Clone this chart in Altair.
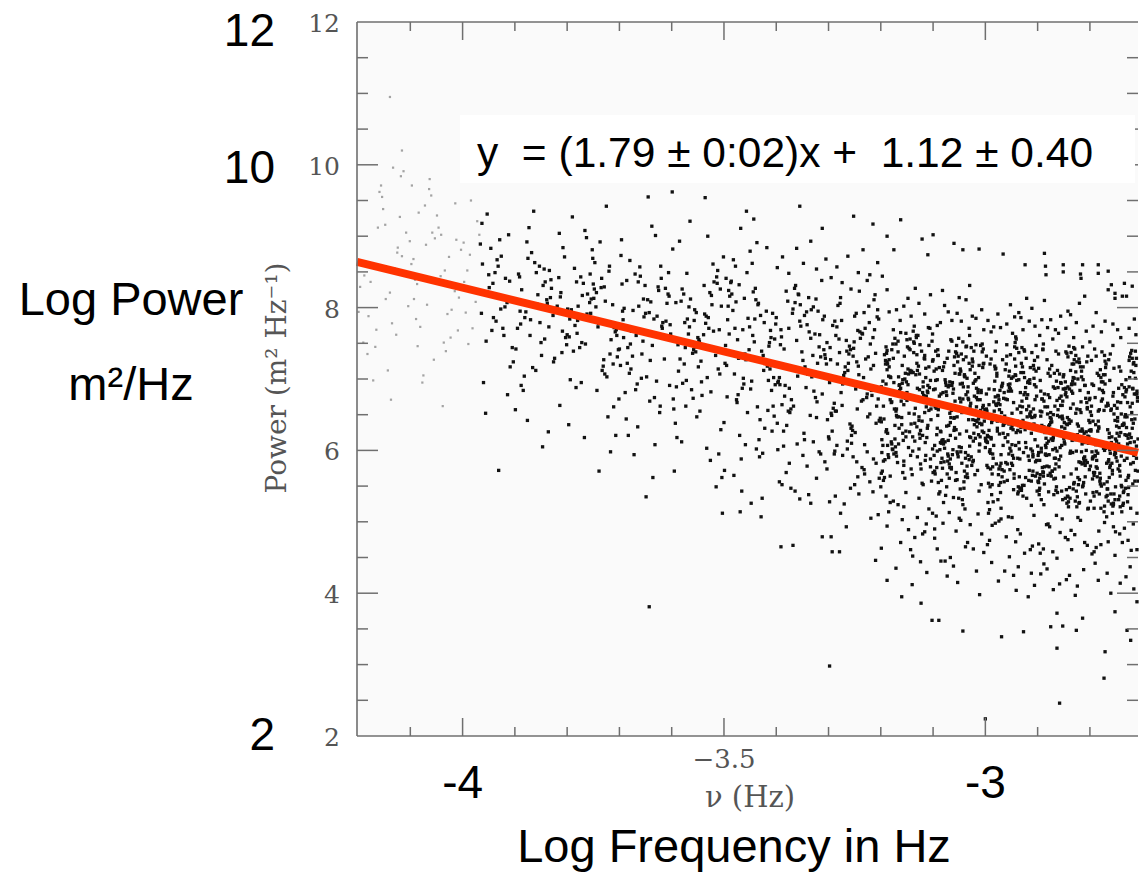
import altair as alt
import pandas as pd

# ---------------- data ----------------
X_DOMAIN = [-4.202, -2.708]
Y_DOMAIN = [2, 12]

# fitted line end points (log frequency, log power)
FIT_X = [-4.202, -2.708]
FIT_Y = [8.64, 5.97]

# light grey points (low-frequency data set); tokens "offset:y", x = band start + offset/1000
GRAY_STARTS = [-4.2, -4.1, -4.0]
GRAY_POINTS = [
    "44:9.71 12:8.45 73:7.62 38:9.12 99:8.93 61:8.21 18:7.35 84:8.72 48:9.38 1:7.94 70:8.55 29:6.98 "
    "92:9.05 53:8.12 10:7.51 76:8.84 41:9.62 65:7.78 24:8.36 87:9.91 57:7.12 15:8.64 80:9.27 33:7.45 "
    "96:8.02 46:9.55 4:8.29 63:6.71 20:7.88 89:8.47 52:9.16 35:7.69 75:8.77 61:10.95 67:9.96 84:10.2 82:9.84",
    "37:9.8 82:8.31 14:7.46 59:9.02 6:8.68 71:7.91 28:9.43 93:8.14 45:7.27 3:9.71 66:8.52 19:7.73 88:8.95 "
    "51:9.29 32:8.04 77:7.58 9:8.39 40:9.57 62:6.62 25:7.05 97:8.81 54:9.12 11:7.84 85:8.23 36:9.66 68:7.39 "
    "2:8.61 47:8.97 79:7.97 16:9.33 58:8.44 91:7.68 23:6.95 74:8.71 42:9.05 7:8.12 64:7.51 30:8.88 86:9.46 13:8.33",
    "14:8.74 6:7.93 28:9.21 3:8.36 19:7.71 32:9.02 9:8.52 25:8.08 11:7.49 2:8.91 23:8.27 16:9.5",
]

# black points (main data set)
BLACK_STARTS = [-4.0, -3.9, -3.8, -3.7, -3.6, -3.5, -3.4, -3.3, -3.2, -3.1, -3.0, -2.9, -2.8]
BLACK_POINTS = [
    # -4.0
    "37:9.18 82:8.41 59:7.86 71:8.95 93:8.12 45:7.53 66:8.67 88:9.02 51:8.28 77:7.71 40:6.95 62:8.49 "
    "97:7.24 54:8.83 85:8.07 36:7.92 68:8.58 47:9.31 79:7.61 58:8.34 91:7.17 74:8.72 42:8.19 64:7.81 "
    "86:6.78 50:8.46 95:7.44 69:5.72 34:8.89 81:8.01 56:7.68 90:8.37 44:6.52 73:7.98 38:8.61",
    # -3.9
    "66:8.52 19:7.86 88:8.21 51:7.33 32:8.77 77:7.95 9:8.43 40:7.12 62:8.06 25:8.69 97:7.58 54:8.31 "
    "11:7.77 85:9.04 36:9.35 68:8.14 2:7.42 47:8.58 79:7.99 16:6.84 58:8.36 91:7.67 23:8.92 74:7.24 "
    "42:8.05 7:8.47 64:6.26 30:7.83 86:6.63 13:8.25 50:7.51 95:8.71 21:7.94 69:8.39 34:7.16 81:8.02 "
    "5:7.71 56:8.54 27:9.12 90:7.37 44:8.18 12:6.91 73:7.89 38:8.63 99:7.48 61:8.11 18:7.04 84:8.42 "
    "48:7.79 1:6.57 70:8.27 29:7.61 92:8.84 53:6.05 10:7.95 76:7.29 41:8.49 65:7.73 24:6.42 87:8.15 57:7.56",
    # -3.8
    "50:8.33 95:7.61 21:8.02 69:7.18 34:9.08 81:8.58 5:7.84 56:8.21 27:6.95 90:7.72 44:8.47 12:7.39 "
    "73:8.09 38:7.91 99:6.72 61:5.71 18:8.36 84:7.55 48:8.81 1:7.98 70:7.27 29:8.17 92:7.66 53:8.63 "
    "10:9.27 76:7.03 41:7.86 65:8.28 24:7.44 87:8.04 57:6.84 15:7.75 80:8.51 33:6.18 96:7.31 46:8.12 "
    "4:7.59 63:8.92 20:7.82 89:6.61 52:8.26 35:7.49 75:9.42 8:7.97 67:7.12 26:8.43 94:7.69 43:8.07 "
    "17:6.88 83:5.98 60:7.78 31:8.34 98:7.41 49:8.69 22:7.88 72:7.07 39:8.19 0:7.62 78:6.47 55:8.01 "
    "37:8.98 82:7.35 14:8.55 59:7.73 6:6.99 71:8.29 28:7.51 93:6.21 45:7.92 3:6.36 66:8.41 19:7.64 "
    "88:7.21 51:8.13",
    # -3.7
    "57:7.93 15:7.22 80:8.41 33:7.66 96:6.91 46:8.12 4:8.95 63:7.47 20:8.66 89:7.81 52:7.03 35:6.33 "
    "75:8.24 8:7.58 67:6.74 26:7.96 94:8.49 43:7.35 17:6.21 83:7.79 60:8.08 31:6.85 98:7.63 49:8.31 "
    "22:7.14 72:7.88 39:8.57 0:7.42 78:6.62 55:9.55 37:8.02 82:7.71 14:8.38 59:7.26 6:7.95 71:6.97 "
    "28:5.94 93:8.19 45:7.53 3:8.73 66:7.84 19:7.08 88:8.27 51:5.35 32:7.61 77:6.53 9:7.99 40:8.44 "
    "62:9.14 25:7.32 97:7.76 54:8.11 11:6.81 85:7.57 36:8.36 68:6.08 2:7.19 47:7.87 79:8.58 16:7.44 "
    "58:6.69 91:8.06 23:7.67 74:8.29 42:7.01 7:7.83 64:5.62 30:8.47 86:7.28 13:6.44 50:7.92 95:8.16 "
    "21:7.49 69:9.01 34:6.93 81:7.74 5:8.33 57:3.81",
    # -3.6
    "71:7.71 28:6.98 93:8.26 45:7.45 3:6.72 66:7.88 19:6.12 88:8.52 51:7.17 32:7.63 "
    "77:8.04 9:6.89 40:7.36 62:8.31 25:7.79 97:5.12 54:6.55 11:7.54 85:5.49 36:8.12 "
    "68:7.02 2:8.82 47:7.93 79:8.61 16:7.28 58:6.77 91:7.69 23:8.19 74:5.86 42:7.41 "
    "7:6.38 64:9.54 30:7.84 86:8.43 13:7.11 50:7.58 95:8.02 21:6.94 69:9.0 34:7.73 "
    "81:8.36 5:5.71 56:7.25 27:6.62 90:5.95 44:7.97 12:7.48 73:8.21 38:6.85 99:8.71 "
    "61:7.62 18:8.09 84:7.33 48:6.47 1:9.62 70:7.86 29:8.48 92:7.07 53:7.52 10:6.18 "
    "76:8.17 41:6.73 65:7.78 24:7.21 87:8.34 57:6.96 15:8.93 80:7.67 33:8.01 96:5.62 "
    "46:7.38 4:6.58 63:7.91 20:8.26 89:7.14 52:7.55 35:9.21 75:6.82 8:8.07 67:6.03 "
    "26:7.44 94:6.29 43:7.82",
    # -3.5
    "58:7.52 91:6.84 23:8.08 74:5.96 42:7.27 7:7.83 64:6.61 30:6.21 86:7.46 13:8.35 "
    "50:8.79 95:7.02 21:7.71 69:6.43 34:5.43 81:7.95 5:7.19 56:8.22 27:6.78 90:7.58 "
    "44:8.49 12:7.36 73:5.33 38:6.93 99:7.77 61:8.11 18:8.67 84:6.56 48:7.41 1:5.72 "
    "70:7.89 29:8.32 92:6.27 53:6.97 10:7.63 76:7.12 41:6.08 65:8.04 24:6.71 87:7.51 "
    "57:9.24 15:8.19 80:7.24 33:5.88 96:6.48 46:7.85 4:8.41 63:8.91 20:7.07 89:7.68 "
    "52:5.26 35:6.87 75:7.33 8:8.02 67:6.15 26:7.55 94:6.62 43:9.35 17:7.96 83:7.18 "
    "60:8.27 31:5.14 98:6.92 49:7.73 22:8.58 72:7.39 39:8.13 0:6.39 78:6.31 55:7.61 "
    "37:7.01 82:8.84 14:8.37 59:7.84 6:6.75 71:5.07 28:7.29 93:7.92 45:6.53 3:7.47 "
    "66:8.06 19:5.65 88:7.14 51:6.86 32:9.11 77:7.79 9:8.24 40:7.35 62:6.02 25:6.67 "
    "97:7.56 54:8.62 11:8.16 85:6.98 36:7.69 68:5.91 2:7.22",
    # -3.4
    "70:7.33 29:6.71 92:7.88 53:6.24 10:7.59 76:8.12 41:7.04 65:6.49 24:7.71 87:8.38 "
    "57:6.88 15:7.42 80:7.95 33:6.62 96:7.21 46:8.04 4:6.97 63:7.66 20:6.35 89:7.83 "
    "52:7.13 35:8.27 75:6.74 8:7.48 67:7.97 26:6.53 94:7.29 43:8.18 17:6.91 83:7.62 "
    "60:7.07 31:7.92 98:6.43 49:7.38 22:8.09 72:6.83 39:7.54 0:7.86 78:6.68 55:7.17 "
    "37:8.31 82:7.45 14:6.27 59:7.76 6:7.02 71:8.01 28:6.58 93:7.34 45:7.81 3:6.95 "
    "66:7.57 19:8.23 88:6.79 51:7.26 32:7.98 77:6.46 9:7.69 40:7.11 62:8.14 25:6.87 "
    "97:7.51 54:7.89 11:6.64 85:7.31 36:8.07 68:7.03 2:6.38 47:7.74 79:7.22 16:6.76 "
    "58:7.94 91:7.41 23:6.55 74:7.63 42:8.19 7:6.92 "
    "82:5.98 14:6.06 59:5.78 6:5.56 71:6.12 28:5.47 93:5.84 45:5.32 3:6.01 66:5.26 19:5.69 88:4.79 "
    "51:5.93 32:4.67 77:5.61 9:4.65 40:6.09 62:5.38 25:5.82 97:5.74 54:6.15 11:5.52 85:5.95 36:5.43 "
    "2:8.56 12:8.71 24:8.48 39:8.83 52:8.62 66:8.93 77:8.54 88:9.11 95:8.68 45:9.42",
    # -3.3
    "81:7.14 5:6.52 56:7.68 27:6.93 90:7.36 44:6.21 12:7.81 73:6.74 38:7.22 99:6.45 "
    "61:7.57 18:8.03 84:6.88 48:7.43 1:6.16 70:7.71 29:7.05 92:6.62 53:7.92 10:6.99 "
    "76:7.31 41:6.37 65:7.63 24:6.81 87:8.11 57:7.18 15:6.55 80:7.49 33:6.94 96:7.84 "
    "46:6.28 4:7.27 63:6.69 20:7.56 89:8.18 52:6.86 35:7.39 75:6.47 8:7.75 67:7.02 "
    "26:6.63 94:7.97 43:6.31 17:7.21 83:6.77 60:7.66 31:7.09 98:6.41 49:7.52 22:8.06 "
    "72:6.92 39:7.35 0:6.19 78:7.79 55:6.58 37:7.12 82:6.84 14:7.61 59:8.23 6:6.49 "
    "71:7.28 28:6.97 93:7.87 45:6.34 3:7.44 66:6.71 19:7.01 88:7.69 51:6.25 32:7.17 "
    "77:8.02 9:6.59 40:7.46 62:6.89 25:7.82 97:6.42 54:7.24 11:6.66 85:7.58 36:6.13 "
    "68:7.93 2:6.95 47:7.32 79:6.51 16:7.73 58:7.06 91:6.38 23:8.14 74:6.79 42:7.41 "
    "7:6.27 64:7.64 30:6.98 86:7.19 13:6.55 50:7.88 95:6.72 21:7.37 69:6.08 34:7.54 "
    "2:2.98 97:5.61 54:5.84 11:5.95 85:5.42 36:6.02 68:5.73 2:5.28 47:5.91 79:5.56 16:6.07 58:5.39 "
    "91:5.82 23:5.12 74:5.98 42:5.47 7:4.58 64:5.76 30:5.25 86:5.88 13:5.36 50:5.52 95:5.1 21:4.58 "
    "69:5.67 34:4.93 81:5.05 5:4.79 56:5.63 27:5.93 90:4.46 44:6.1 12:5.99 "
    "5:8.42 16:8.57 26:8.35 37:8.72 48:9.28 57:8.49 66:8.81 74:8.38 85:9.17 94:8.63 43:8.26 79:8.46",
    # -3.2
    "52:6.92 35:6.31 75:7.48 8:5.87 67:7.06 26:6.58 94:7.71 43:6.14 17:6.83 83:7.29 "
    "60:5.66 31:6.47 98:7.53 49:6.96 22:6.02 72:7.18 39:6.69 0:5.49 78:7.39 55:6.26 "
    "37:7.82 82:6.77 14:5.94 59:7.11 6:6.44 71:7.61 28:6.05 93:6.88 45:7.32 3:5.71 "
    "66:6.59 19:7.02 88:6.18 51:7.45 32:5.83 77:6.73 9:7.21 40:6.36 62:7.67 25:6.95 "
    "97:5.57 54:6.52 11:7.36 85:6.11 36:6.84 68:7.58 2:5.97 47:7.08 79:6.41 16:7.27 "
    "58:5.74 91:6.67 23:7.49 74:6.23 42:6.99 7:5.62 64:7.74 30:6.49 86:7.15 13:6.07 "
    "50:6.81 95:5.88 21:7.41 69:6.33 34:7.03 81:5.52 5:6.62 56:7.56 27:6.16 90:6.91 "
    "44:5.79 12:7.24 73:6.42 38:6.87 99:7.63 61:5.99 18:6.71 84:7.33 48:6.27 1:5.68 "
    "70:7.12 29:6.55 92:7.47 53:6.04 10:6.93 76:5.81 41:7.19 65:6.38 24:7.69 87:6.76 "
    "57:5.93 15:7.04 80:6.21 33:7.38 96:6.58 46:5.61 4:6.97 63:7.52 20:6.12 89:6.83 "
    "77:5.74 9:7.26 40:6.46 62:7.09 25:5.95 97:6.64 54:7.43 11:6.29 85:5.86 36:6.92 "
    "68:7.61 2:6.15 47:6.73 79:5.54 16:7.17 58:6.37 91:7.72 23:6.01 74:6.85 42:5.69 "
    "7:7.34 64:6.51 30:5.92 86:7.02 13:6.24 50:7.55 95:5.77 21:6.68 69:7.22 34:6.09 "
    "81:6.96 5:5.58 56:7.41 27:6.35 90:6.81 44:5.85 12:7.13 73:6.47 38:7.65 99:6.02 "
    "61:6.74 18:5.64 84:7.28 48:6.19 1:6.89 70:5.91 29:7.49 92:6.56 53:7.07 10:6.26 "
    "44:5.21 12:4.94 73:5.33 38:4.71 99:5.12 61:4.52 18:5.27 84:4.86 48:5.41 1:4.63 70:5.06 29:4.35 "
    "92:5.18 53:4.89 10:5.36 76:4.44 41:5.03 65:4.78 24:5.29 87:4.97 57:4.61 15:5.14 80:4.83 33:5.24 "
    "77:3.86 12:4.18 40:3.95 60:4.12 88:4.29 98:3.62 "
    "3:8.44 12:9.0 12:8.25 16:7.94 25:8.81 38:9.23 44:8.02 52:8.13 66:8.27 73:8.06 79:8.96 90:8.74 "
    "58:7.88 30:7.97 84:7.91 95:8.18",
    # -3.1
    "68:6.71 2:5.93 47:7.24 79:6.36 16:5.58 58:6.89 91:7.47 23:6.12 74:6.54 42:7.08 "
    "7:5.76 64:6.27 30:7.39 86:6.81 13:5.42 50:6.05 95:7.16 21:6.63 69:5.87 34:7.55 "
    "81:6.42 5:6.98 56:5.31 27:7.29 90:6.19 44:5.69 12:6.76 73:7.44 38:6.01 99:6.57 "
    "61:5.18 18:7.12 84:6.33 48:5.91 1:6.85 70:7.61 29:6.14 92:5.52 53:6.68 10:7.33 "
    "76:5.84 41:6.46 65:7.01 24:5.37 87:6.22 57:7.52 15:6.79 80:5.66 33:6.39 96:7.21 "
    "46:5.98 4:6.61 63:7.45 20:5.27 89:6.08 52:6.93 35:5.74 75:7.18 8:6.31 67:6.73 "
    "26:5.49 94:7.38 43:6.17 17:5.89 83:6.87 60:7.04 31:5.61 98:6.49 49:7.57 22:6.03 "
    "72:6.66 39:5.34 0:7.27 78:6.24 55:5.82 37:6.95 82:7.48 14:6.11 59:5.56 6:6.59 "
    "71:7.13 28:5.95 93:6.37 45:7.36 3:5.71 66:6.82 19:6.15 88:5.43 51:7.07 32:6.52 "
    "77:5.86 9:7.41 40:6.28 62:5.63 25:6.91 97:7.22 54:6.04 11:5.39 85:6.71 36:7.53 "
    "70:6.19 29:5.92 92:6.84 53:7.11 10:5.55 76:6.43 41:7.31 65:5.78 24:6.63 87:7.02 "
    "57:5.24 15:6.26 80:6.97 33:5.88 96:7.42 46:6.47 4:5.67 63:6.78 20:7.17 89:6.09 "
    "52:5.46 35:6.56 75:7.28 8:5.99 67:6.89 26:6.34 94:7.49 43:5.58 17:6.12 83:6.74 "
    "60:7.06 31:5.81 98:6.41 49:5.33 22:7.23 72:6.18 39:6.86 0:5.69 78:7.39 55:6.53 "
    "37:5.94 82:6.99 14:6.27 59:5.47 6:7.14 71:6.62 28:5.85 93:6.36 45:7.47 3:6.07 "
    "66:5.62 19:6.81 88:7.19 51:6.23 32:5.76 77:6.94 9:7.33 40:6.45 62:5.97 "
    "3:4.9 3:4.77 11:3.62 15:4.45 23:4.45 27:4.24 33:4.5 39:4.38 57:3.47 62:4.65 77:4.62 6:5.08 "
    "19:4.98 31:5.13 44:4.87 50:5.05 66:4.71 71:4.96 86:5.11 93:4.83 97:4.57 8:4.62 47:4.15 53:5.02 "
    "83:4.31 89:3.98 "
    "0:9.02 40:8.9 57:8.81 88:8.82 29:7.94 54:7.81 82:7.85 69:7.71 14:7.79 22:8.03 36:7.82 46:7.92 "
    "63:8.11 75:7.88 93:7.97 8:7.75 50:8.14 97:7.69 18:8.24 70:8.31",
    # -3.0
    "61:6.41 18:7.18 84:5.72 48:6.86 1:6.13 70:7.44 29:5.41 92:6.58 53:7.03 10:5.96 "
    "76:6.29 41:7.32 65:5.63 24:6.77 87:6.02 57:7.51 15:5.28 80:6.47 33:6.94 96:5.84 "
    "46:7.11 4:6.21 63:5.49 20:6.65 89:7.37 52:5.93 35:6.36 75:7.02 8:5.17 67:6.81 "
    "26:5.74 94:7.26 43:6.12 17:6.55 83:5.58 60:7.43 31:6.89 98:5.86 49:6.31 22:7.08 "
    "72:5.36 39:6.72 0:6.04 78:7.29 55:5.67 37:6.48 82:6.97 14:5.95 59:7.56 6:6.19 "
    "71:5.51 28:6.84 93:7.14 45:6.37 3:5.79 66:6.62 19:7.39 88:5.23 51:6.08 32:6.91 "
    "77:5.62 9:7.21 40:6.44 62:5.89 25:6.76 97:7.47 54:5.45 11:6.16 85:6.99 36:5.71 "
    "68:6.53 2:7.32 47:6.03 79:5.33 16:6.68 58:7.05 91:5.91 23:6.27 74:7.41 42:5.58 "
    "7:6.86 64:6.11 30:5.19 86:7.16 13:6.42 50:5.82 95:6.71 21:7.52 69:5.47 34:6.24 "
    "81:6.95 5:5.76 56:7.28 27:6.57 90:5.99 44:6.83 12:5.38 73:7.09 38:6.18 99:5.68 "
    "7:6.64 64:7.37 30:5.94 86:6.33 13:5.52 50:7.01 95:6.49 21:5.81 69:7.22 34:6.07 "
    "81:6.78 5:5.27 56:7.45 27:6.23 90:5.65 44:6.92 12:6.39 73:5.97 38:7.13 99:5.43 "
    "61:6.58 18:6.97 84:5.86 48:7.34 1:6.14 70:6.69 29:5.55 92:7.19 53:6.29 10:5.74 "
    "76:6.81 41:7.48 65:6.02 24:5.31 87:6.54 57:7.06 15:5.89 80:6.35 33:7.27 96:5.64 "
    "46:6.88 4:6.11 63:5.42 20:7.15 89:6.46 52:5.79 35:6.73 75:7.39 8:5.98 67:6.26 "
    "26:5.51 94:6.92 "
    "0:2.24 31:3.39 73:3.46 37:4.31 54:4.25 94:4.11 82:3.95 46:4.51 63:4.37 12:4.43 25:4.17 59:4.04 "
    "88:4.28 6:5.12 44:5.07 58:4.72 13:4.95 86:4.61 30:5.04 67:4.83 4:4.68 93:5.09 40:4.79 19:4.98 "
    "75:4.56 51:5.06 8:4.74 62:4.89 26:5.01 90:4.66 "
    "34:8.75 76:8.6 79:8.13 56:7.87 72:7.69 16:7.73 58:7.59 89:7.99 5:7.82 24:7.91 41:7.77 48:8.04 "
    "64:7.93 84:7.81 95:7.74 11:7.66 29:7.72 52:7.64 68:7.86",
    # -2.9
    "46:6.33 4:5.47 63:7.12 20:6.78 89:5.86 52:6.09 35:7.39 75:5.21 8:6.54 67:6.97 "
    "26:5.64 94:7.24 43:6.21 17:5.93 83:6.68 60:7.46 31:5.38 98:6.42 49:7.03 22:5.77 "
    "72:6.15 39:6.88 0:7.31 78:5.52 55:6.37 37:5.99 82:7.17 14:6.61 59:5.28 6:6.83 "
    "71:7.42 28:5.71 93:6.26 45:6.94 3:5.44 66:7.21 19:6.51 88:5.89 51:6.12 32:7.08 "
    "77:5.62 9:6.72 40:7.35 62:5.96 25:6.39 97:5.19 54:6.87 11:7.49 85:5.81 36:6.24 "
    "68:7.02 2:5.55 47:6.63 79:7.28 16:6.04 58:5.35 91:6.91 23:7.14 74:5.74 42:6.47 "
    "7:5.98 64:7.37 30:6.18 86:5.49 13:6.79 50:7.06 95:5.83 21:6.34 69:7.44 34:5.61 "
    "81:6.57 5:6.98 56:5.26 27:7.19 90:6.11 44:5.92 12:6.69 73:7.33 38:5.41 99:6.28 "
    "61:6.86 18:5.78 84:7.11 48:6.44 1:5.57 70:7.27 29:6.01 92:6.73 53:5.33 10:7.41 "
    "76:6.22 41:5.87 65:6.92 24:7.04 87:5.51 57:6.36 15:5.94 80:7.23 33:6.62 96:5.18 "
    "97:6.81 54:7.38 11:5.69 85:6.09 36:6.97 68:5.46 2:7.15 47:6.48 79:5.84 16:6.26 "
    "58:7.31 91:5.63 23:6.74 74:5.99 42:7.07 7:5.31 64:6.41 30:6.89 86:7.45 13:5.77 "
    "50:6.17 95:6.58 21:5.42 69:7.21 34:6.03 81:6.84 5:5.66 56:7.36 27:6.29 90:5.91 "
    "44:6.95 12:5.24 73:6.52 38:7.12 99:5.73 61:6.38 18:7.27 84:5.98 48:6.69 1:5.56 "
    "70:7.01 29:6.14 92:5.86 53:6.78 10:7.42 76:5.35 41:6.23 65:6.93 24:5.68 87:7.17 "
    "57:6.46 15:5.95 80:5.27 33:6.87 96:7.32 46:6.07 4:5.61 63:6.59 20:7.08 89:5.82 "
    "52:6.31 35:5.44 75:7.24 8:6.72 67:5.97 26:6.16 "
    "37:3.72 25:3.53 48:3.54 37:3.23 74:3.48 86:3.65 72:3.97 42:4.13 18:4.34 76:4.1 61:4.25 37:4.49 "
    "12:4.41 42:2.46 6:4.27 30:4.05 55:4.19 88:4.33 65:4.61 20:4.97 64:4.88 11:4.62 47:5.04 90:4.71 "
    "23:4.93 5:4.56 71:4.82 36:5.09 95:4.67 17:4.96 58:4.75 82:5.02 29:4.58 43:4.85 2:4.69 77:5.06 53:4.78 "
    "13:8.76 15:8.58 16:8.46 49:8.6 49:8.5 86:8.6 82:8.47 83:8.41 90:8.16 13:8.1 25:7.83 44:7.88 "
    "63:7.9 34:7.69 80:8.06 4:7.61 19:7.72 29:7.56 40:7.64 54:7.71 69:7.58 74:7.79 93:7.67 8:7.83 58:7.95",
    # -2.8 (to the right edge)
    "37:6.24 82:5.53 14:7.08 59:6.67 6:5.91 71:6.02 28:7.33 45:5.26 3:6.49 66:6.88 "
    "19:5.68 88:7.19 51:6.13 32:5.82 77:6.61 9:7.42 40:5.39 62:6.35 25:6.96 54:5.74 "
    "11:6.08 85:6.79 36:7.27 68:5.47 2:6.29 47:5.94 79:7.11 16:6.55 58:5.21 91:6.74 "
    "23:7.38 74:5.65 42:6.19 7:6.91 64:5.41 30:7.16 86:6.44 13:5.86 50:6.04 21:7.02 "
    "69:5.58 34:6.66 81:7.29 5:5.89 56:6.32 27:5.14 90:6.83 44:7.47 12:5.77 73:6.17 "
    "38:6.98 61:5.49 18:6.57 84:7.23 48:5.97 1:5.29 70:6.85 29:7.06 92:5.71 53:6.41 "
    "10:5.92 76:7.31 41:6.11 65:5.43 24:6.72 87:7.01 57:5.79 15:6.27 80:7.4 33:5.56 "
    "46:6.51 4:6.93 63:5.23 20:7.13 89:6.06 52:5.85 35:6.63 75:7.26 8:5.36 67:6.22 "
    "26:6.81 43:5.72 17:7.05 83:6.38 60:5.51 31:7.21 49:5.96 22:6.69 72:5.28 39:7.35 "
    "0:6.16 78:5.81 55:6.87 69:6.99 34:5.46 81:6.31 5:5.88 56:7.17 27:6.56 90:5.12 "
    "44:6.76 12:7.32 73:5.62 38:6.01 61:6.92 18:5.39 84:7.09 48:6.42 1:5.78 70:6.21 "
    "29:7.25 92:5.57 53:6.68 10:5.93 76:7.02 41:5.25 65:6.36 24:6.84 87:7.39 57:5.71 "
    "15:6.12 80:6.53 33:5.37 46:7.15 4:5.98 63:6.78 20:5.61 89:7.29 52:6.24 35:5.84 "
    "75:6.89 8:5.19 67:6.47 26:7.06 43:5.67 17:6.33 83:7.21 60:5.92 31:6.62 49:5.49 "
    "22:6.96 72:6.09 39:5.79 0:6.73 78:7.36 55:5.31 37:6.18 82:6.87 14:5.63 59:7.11 "
    "6:6.41 71:5.89 28:5.22 45:6.81 3:7.26 66:6.02 "
    "29:3.18 27:2.81 48:3.74 71:3.48 78:3.34 40:4.0 69:4.23 77:4.37 33:4.28 48:4.53 90:3.88 10:4.42 "
    "58:4.14 84:4.06 16:4.18 57:4.83 12:4.64 83:4.97 35:4.72 4:4.55 66:4.91 21:4.68 49:4.86 90:4.61 "
    "28:4.99 73:4.74 8:4.58 45:4.93 62:4.71 17:4.87 79:4.6 "
    "16:8.6 16:8.48 35:8.51 41:8.32 66:8.34 81:8.3 48:8.13 0:7.52 35:8.25 48:8.2 62:8.16 70:8.16 "
    "6:7.74 22:7.66 29:7.81 53:7.69 59:7.58 75:7.71 88:7.62 12:7.93 44:7.77 85:7.84",
]

# extra points of the very dense core at high frequencies
DENSE_STARTS = [-3.2, -3.1, -3.0, -2.9, -2.8]
DENSE_POINTS = [
    "74:7.07 42:6.24 7:6.83 64:7.5 30:6.58 86:5.93 13:7.21 50:6.7 95:6.98 21:6.09 69:7.34 34:6.47 "
    "81:6.89 5:5.85 56:7.12 27:7.57 90:6.35 44:6.64 12:7.4 73:6.02 38:6.78 99:7.25 61:6.19 18:7.03 "
    "84:6.53 48:7.64 1:6.4 70:6.87 29:5.97 92:7.17 53:6.74 10:7.45 76:6.28 41:6.94 65:6.13 24:7.29 "
    "87:6.61 57:7.09 15:5.9 80:6.81 33:7.53 96:6.43 46:7.0 4:6.07 63:7.37 20:6.67 89:6.31 52:7.14 35:6.91 75:6.17",
    "88:5.99 51:6.73 32:6.96 77:6.13 9:6.49 40:7.19 62:5.89 25:6.82 97:6.25 54:7.35 11:6.63 85:5.72 "
    "36:6.91 68:6.43 2:7.11 47:5.95 79:6.76 16:6.1 58:7.27 91:6.56 23:6.99 74:5.79 42:6.69 7:6.22 "
    "64:7.46 30:6.35 86:6.85 13:6.01 50:7.07 95:6.6 21:5.84 69:7.22 34:6.46 81:6.17 5:7.39 56:6.94 "
    "27:5.67 90:6.71 44:6.29 12:7.16 73:5.91 38:6.8 99:6.52 61:7.03 18:5.75 84:6.4 48:7.32 1:6.65 "
    "70:6.06 29:6.89 92:6.81 53:5.98 10:6.57 76:7.24 41:6.32 65:5.67 24:6.95 87:6.44 57:6.72 15:5.83 "
    "80:7.08 33:6.21 96:6.63 46:5.59 4:6.86 63:7.31 20:6.09 89:6.38 52:7.14 35:5.76 75:6.52 8:6.99 "
    "67:5.93 26:6.77 94:6.27 43:7.38 17:6.14 83:6.61 60:5.71 31:6.91",
    "26:6.71 94:6.47 43:6.22 17:6.85 83:6.62 60:6.98 31:6.53 98:6.76 49:5.99 22:7.04 72:6.42 39:5.83 "
    "0:6.17 78:6.04 55:5.61 37:6.38 82:5.92 14:5.77 59:6.25 6:5.54 71:7.17 28:6.64 93:7.01 45:5.95 "
    "3:6.55 66:5.88 19:7.14 88:5.57 51:6.34 32:5.73 77:6.11 9:5.49 40:7.21 62:6.28 25:5.66 97:6.89 "
    "54:6.67 11:7.28 85:6.51 36:6.81 68:7.09 2:6.58 47:6.93 79:6.73 16:6.45 58:6.07 91:5.71 23:6.31 "
    "74:6.78 42:5.81 71:6.61 28:5.78 93:6.37 45:7.04 3:6.12 66:5.47 19:6.75 88:6.24 51:6.52 32:5.63 "
    "77:6.88 9:6.01 40:6.43 62:5.39 25:6.66 97:7.11 54:5.89 11:6.18 85:6.94 36:5.56 68:6.32 2:6.79 "
    "47:5.73 79:6.57 16:6.07 58:7.18 91:5.94 23:6.41 74:5.51 42:6.71 7:6.28 64:6.99 30:5.82 86:6.48 "
    "13:5.67 50:6.83 95:6.15 21:6.63 69:5.44 34:6.35",
    "50:5.63 95:6.6 21:6.13 69:5.53 34:5.89 81:6.27 5:6.55 56:6.75 27:6.4 90:6.91 44:6.63 12:6.33 "
    "73:7.1 38:6.49 99:6.71 61:5.48 18:6.1 84:7.03 48:5.31 1:5.93 70:5.55 29:6.16 92:5.39 53:6.96 "
    "10:5.7 76:6.37 41:5.77 65:6.83 24:6.46 87:6.99 57:5.36 15:6.07 80:5.59 33:5.74 96:6.2 46:5.43 "
    "4:5.86 63:5.99 20:5.65 89:6.24 52:6.86 35:5.81 75:6.58 8:6.35 67:6.8 26:6.44 94:6.67 43:6.04 "
    "17:6.29 83:6.53 60:6.43 31:5.6 98:6.19 49:6.86 22:5.94 72:5.29 39:6.57 0:6.06 78:6.34 55:5.45 "
    "37:6.7 82:5.83 14:6.25 59:5.21 6:6.48 71:6.93 28:5.71 93:6.0 45:6.76 3:5.38 66:6.14 19:6.61 "
    "88:5.55 51:6.39 32:5.89 77:7.0 9:5.76 40:6.23 62:5.33 25:6.53 97:6.1 54:6.81 11:5.64 85:6.3 "
    "36:5.49 68:6.65 2:5.97 47:6.45 79:5.26 16:6.17 58:6.89 91:5.79 23:6.36 74:5.43 42:6.73 7:6.03 "
    "64:5.67 30:6.5 86:6.27 13:5.53",
    "11:6.36 85:6.12 36:5.87 68:6.5 2:6.27 47:6.63 79:6.18 16:6.41 58:5.64 91:6.69 23:6.07 74:5.48 "
    "42:5.82 7:5.69 64:5.26 30:6.03 86:5.57 13:5.42 50:5.9 21:5.19 69:6.82 34:6.29 81:6.66 5:5.6 "
    "56:6.2 27:5.53 90:6.79 44:5.22 12:5.99 73:5.38 38:5.76 61:5.14 18:6.86 84:5.93 48:5.31 1:6.54 "
    "70:6.32 29:6.93 92:6.16 53:6.46 10:6.74 76:6.23 41:6.58 65:6.38 24:6.1 87:5.72 57:5.36 15:5.96 "
    "80:6.43 33:5.46 46:5.39 4:6.13 63:6.36 20:5.53 89:5.89 52:6.59 35:5.29 75:6.22 8:5.65 67:6.75 "
    "26:6.03 43:5.12 17:6.31 83:5.83 60:6.51 31:5.35 49:6.16 22:5.5 72:6.67 39:5.96 0:6.39 78:5.19 "
    "55:6.09 37:5.62 82:6.86 14:5.75 59:6.25 6:5.41 71:6.47 28:6.0 45:5.24 3:6.62 66:5.86 19:5.57 "
    "88:6.79 51:6.34 32:5.07 77:6.11 9:5.69 40:6.56",
]

# axis ticks and labels of the original figure
X_MAJOR_TICKS = [-4.0, -3.5, -3.0]
X_MINOR_TICKS = [-4.1, -3.9, -3.8, -3.7, -3.6, -3.4, -3.3, -3.2, -3.1, -2.9, -2.8]
Y_MAJOR_TICKS = [4, 6, 8, 10]
Y_MINOR_TICKS = [2.5, 3, 3.5, 4.5, 5, 5.5, 6.5, 7, 7.5, 8.5, 9, 9.5, 10.5, 11, 11.5]
X_LABEL_VALUES = [-3.5]
X_LABEL_TEXT = ["\u22123.5"]
Y_LABEL_VALUES = [2, 4, 6, 8, 10, 12]
Y_LABEL_TEXT = ["2", "4", "6", "8", "10", "12"]
X_TITLE = "\u03bd (Hz)"
Y_TITLE = "Power (m² Hz⁻¹)"

# large overlay annotations
OUTER_Y_VALUES = [12, 10, 2]
OUTER_Y_TEXT = ["12", "10", "2"]
OUTER_X_VALUES = [-4, -3]
OUTER_X_TEXT = ["-4", "-3"]
EQUATION = "y\u00a0 = (1.79 ± 0:02)x +\u00a0 1.12 ± 0.40"
X_NOTE = "Log Frequency in Hz"
Y_NOTE_1 = "Log Power"
Y_NOTE_2 = "m²/Hz"


def parse(starts, strings):
    xs_, ys_ = [], []
    for start, txt in zip(starts, strings):
        for tok in txt.split():
            off, yv = tok.split(":")
            xs_.append(round(start + float(off) / 1000.0, 4))
            ys_.append(float(yv))
    return pd.DataFrame({"x": xs_, "y": ys_})


gray_df = parse(GRAY_STARTS, GRAY_POINTS)
black_df = pd.concat([parse(BLACK_STARTS, BLACK_POINTS), parse(DENSE_STARTS, DENSE_POINTS)],
                     ignore_index=True)
fit_df = pd.DataFrame({"x": FIT_X, "y": FIT_Y})

W, H = 781, 714
AX = "#6f6f6f"
LBL = "#555555"
SERIF = "DejaVu Serif"
SANS = "Liberation Sans"

xs = alt.Scale(domain=X_DOMAIN, nice=False, zero=False)
ys = alt.Scale(domain=Y_DOMAIN, nice=False, zero=False)

gray_layer = alt.Chart(gray_df).mark_square(size=5, color="#a3a3a3", opacity=1).encode(
    x=alt.X("x:Q", scale=xs, axis=None),
    y=alt.Y("y:Q", scale=ys, axis=None),
)
black_layer = alt.Chart(black_df).mark_square(size=11, color="#111111", opacity=1).encode(
    x=alt.X("x:Q", scale=xs, axis=None),
    y=alt.Y("y:Q", scale=ys, axis=None),
)
fit_layer = alt.Chart(fit_df).mark_line(color="#ff3300", strokeWidth=8, strokeCap="butt").encode(
    x=alt.X("x:Q", scale=xs, axis=None),
    y=alt.Y("y:Q", scale=ys, axis=None),
)

one = pd.DataFrame({"a": [0]})


def frame_rule(**enc):
    return alt.Chart(one).mark_rule(color=AX, strokeWidth=1.6).encode(**enc)


frame = [
    frame_rule(x=alt.value(0), y=alt.value(0), y2=alt.value(H)),
    frame_rule(x=alt.value(0), x2=alt.value(W), y=alt.value(H)),
    frame_rule(x=alt.value(0), x2=alt.value(W), y=alt.value(0)),
]


def x_ticks(vals, length):
    d = pd.DataFrame({"v": vals})
    base = alt.Chart(d).mark_rule(color=AX, strokeWidth=1.5)
    xenc = alt.X("v:Q", scale=xs, axis=None)
    return [
        base.encode(x=xenc, y=alt.value(H), y2=alt.value(H - length)),
        base.encode(x=xenc, y=alt.value(0), y2=alt.value(length)),
    ]


def y_ticks(vals, length):
    d = pd.DataFrame({"v": vals})
    base = alt.Chart(d).mark_rule(color=AX, strokeWidth=1.5)
    yenc = alt.Y("v:Q", scale=ys, axis=None)
    return [
        base.encode(y=yenc, x=alt.value(0), x2=alt.value(length)),
        base.encode(y=yenc, x=alt.value(W), x2=alt.value(W - length)),
    ]


ticks = (x_ticks(X_MAJOR_TICKS, 18) + x_ticks(X_MINOR_TICKS, 9)
         + y_ticks(Y_MAJOR_TICKS, 21) + y_ticks(Y_MINOR_TICKS, 11))

# inner (original) axis labels and titles
y_labels = alt.Chart(pd.DataFrame({"v": Y_LABEL_VALUES, "t": Y_LABEL_TEXT})).mark_text(
    font=SERIF, fontSize=25, color=LBL, align="right", baseline="middle", dy=2
).encode(y=alt.Y("v:Q", scale=ys, axis=None), x=alt.value(-17), text="t:N")
x_labels = alt.Chart(pd.DataFrame({"v": X_LABEL_VALUES, "t": X_LABEL_TEXT})).mark_text(
    font=SERIF, fontSize=26, color=LBL, align="center", baseline="top"
).encode(x=alt.X("v:Q", scale=xs, axis=None), y=alt.value(H + 11), text="t:N")
x_title = alt.Chart(pd.DataFrame({"t": [X_TITLE]})).mark_text(
    font=SERIF, fontSize=29, color=LBL, align="center", baseline="alphabetic"
).encode(x=alt.value(393), y=alt.value(H + 71), text="t:N")
y_title = alt.Chart(pd.DataFrame({"t": [Y_TITLE]})).mark_text(
    font=SERIF, fontSize=28, color=LBL, align="center", baseline="middle", angle=270
).encode(x=alt.value(-79), y=alt.value(356), text="t:N")

eq_box = alt.Chart(one).mark_rect(color="#ffffff").encode(
    x=alt.value(103), x2=alt.value(W - 3), y=alt.value(93), y2=alt.value(161)
)


def note(text, x, y, size, align="center"):
    return alt.Chart(pd.DataFrame({"t": [text]})).mark_text(
        font=SANS, fontSize=size, color="#000000", align=align, baseline="alphabetic"
    ).encode(text="t:N", x=alt.value(x), y=alt.value(y))


outer_y = [
    alt.Chart(pd.DataFrame({"v": [v], "t": [t]})).mark_text(
        font=SANS, fontSize=46, color="#000000", align="right", baseline="middle", dy=d
    ).encode(y=alt.Y("v:Q", scale=ys, axis=None), x=alt.value(-82), text="t:N")
    for v, t, d in zip(OUTER_Y_VALUES, OUTER_Y_TEXT, (10, 4, 0))
]

outer_x = alt.Chart(pd.DataFrame({"v": OUTER_X_VALUES, "t": OUTER_X_TEXT})).mark_text(
    font=SANS, fontSize=46, color="#000000", align="center", baseline="middle"
).encode(x=alt.X("v:Q", scale=xs, axis=None), y=alt.value(762), text="t:N")

layers = [gray_layer, black_layer, fit_layer] + frame + ticks + [
    y_labels, x_labels, x_title, y_title,
    eq_box,
    note(EQUATION, 120, 145, 42.5, align="left"),
    note(X_NOTE, 377, 840, 47),
    note(Y_NOTE_1, -226, 293, 47),
    note(Y_NOTE_2, -226, 378, 47),
] + outer_y + [outer_x]

chart = alt.layer(*layers).properties(
    width=W,
    height=H,
    autosize=alt.AutoSizeParams(type="none"),
    padding={"left": 357, "top": 22, "right": 1, "bottom": 136},
    background="#ffffff",
).configure_view(stroke=None, fill="#fafafa")

chart.save("out.html", embed_options={"renderer": "svg", "actions": False})
